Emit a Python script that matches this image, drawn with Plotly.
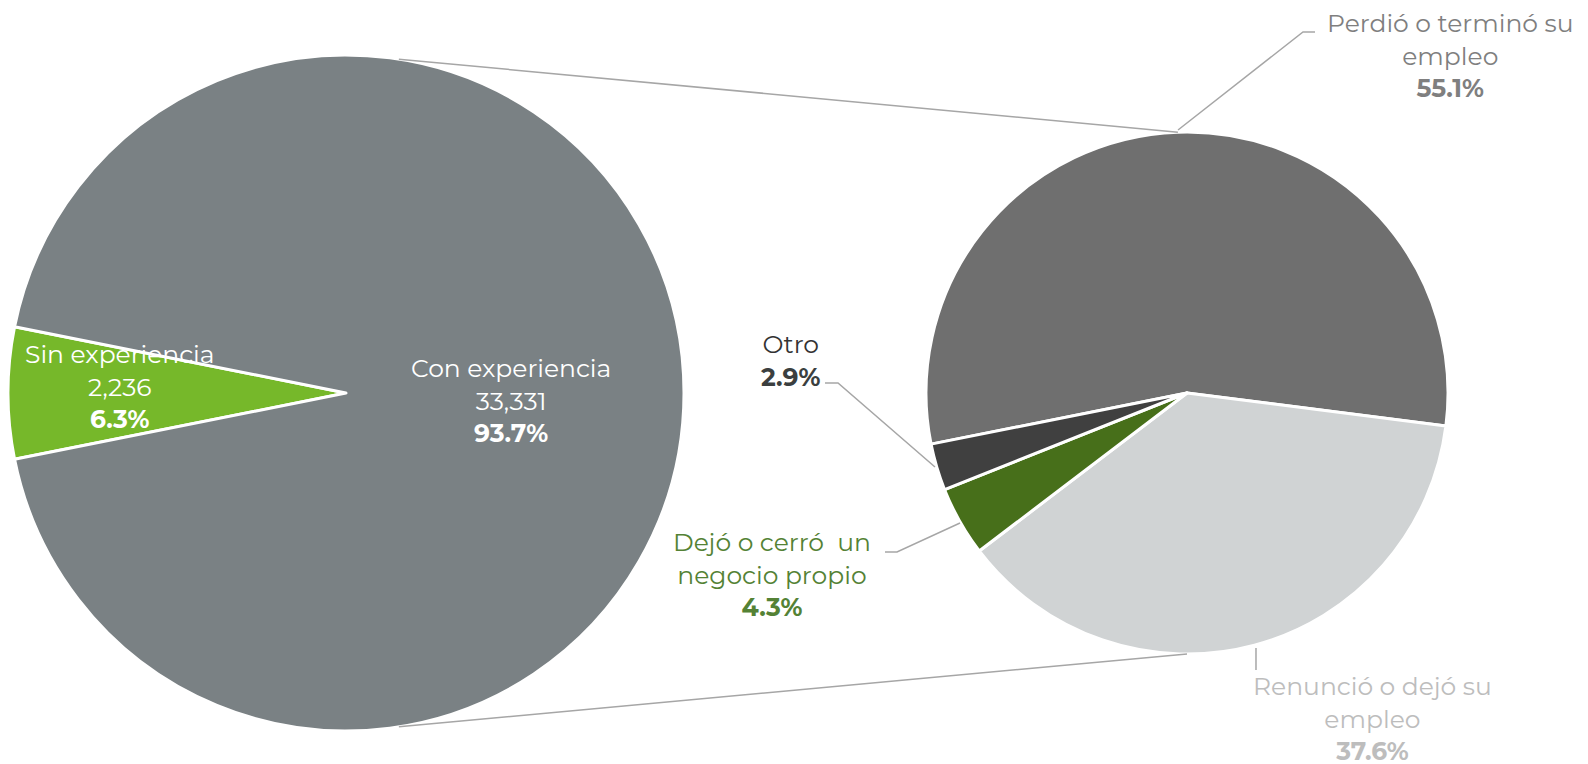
import numpy as np
import plotly.graph_objects as go

W, H = 1588, 764

# Left pie: experience
exp_labels = ['Sin experiencia', 'Con experiencia']
exp_values = [2236, 33331]
exp_pct = ['6.3%', '93.7%']
exp_colors = ['#76B82A', '#7A8184']

# Right pie: reason for leaving the last job
reason_labels = ['Perdió o terminó su empleo', 'Renunció o dejó su empleo',
                 'Dejó o cerró  un negocio propio', 'Otro']
reason_values = [55.1, 37.6, 4.3, 2.9]
reason_colors = ['#6F6F6F', '#D0D3D4', '#476F1A', '#404040']

FONT = 'Montserrat, Open Sans, sans-serif'
FS = 25
OFF = 8  # the page body adds an 8px margin around the figure


def px(x):
    return (x - OFF) / W


def py(y):
    return 1 - (y - OFF) / H


def domain(cx, cy, r):
    clip = lambda v: min(1, max(0, v))
    return dict(x=[clip(px(cx - r)), clip(px(cx + r))],
                y=[clip(py(cy + r)), clip(py(cy - r))])


def on_circle(cx, cy, r, deg):
    # angle measured clockwise from 12 o'clock, like plotly pies
    a = np.radians(deg)
    return cx + r * np.sin(a), cy - r * np.cos(a)


L_CX, L_CY, L_R = 346, 393, 338
R_CX, R_CY, R_R = 1187, 393, 261

half = 180 * exp_values[0] / sum(exp_values)
left_rot = 270 - half
if left_rot > 180:
    left_rot -= 360

fig = go.Figure()
fig.add_trace(go.Pie(
    labels=exp_labels, values=exp_values, sort=False, direction='clockwise',
    rotation=left_rot, domain=domain(L_CX, L_CY, L_R),
    marker=dict(colors=exp_colors, line=dict(color='white', width=3)),
    textinfo='none', showlegend=False,
))
fig.add_trace(go.Pie(
    labels=reason_labels, values=reason_values, sort=False, direction='clockwise',
    rotation=-101.3, domain=domain(R_CX, R_CY, R_R),
    marker=dict(colors=reason_colors, line=dict(color='white', width=3)),
    textinfo='none', showlegend=False,
))

shapes = []
line = dict(color='#A6A6A6', width=1.5)

# connectors between the two pies
for a_left, a_right in [(9, -2), (171, 180)]:
    x0, y0 = on_circle(L_CX, L_CY, L_R, a_left)
    x1, y1 = on_circle(R_CX, R_CY, R_R, a_right)
    shapes.append(dict(type='line', xref='paper', yref='paper',
                       x0=px(x0), y0=py(y0), x1=px(x1), y1=py(y1), line=line))

# leader lines for the labels
leaders = [
    [(1178, 130), (1303, 32), (1315, 32)],
    [(935, 467), (838, 383), (825, 383)],
    [(960, 523), (897, 552), (885, 552)],
    [(1256, 648), (1256, 670)],
]
for pts in leaders:
    path = 'M ' + ' L '.join(f'{px(x):.5f},{py(y):.5f}' for x, y in pts)
    shapes.append(dict(type='path', xref='paper', yref='paper', path=path, line=line))

annotations = []


def label(x, y, text, color):
    annotations.append(dict(x=px(x), y=py(y), xref='paper', yref='paper', text=text,
                            showarrow=False, xanchor='center', yanchor='middle',
                            align='center', font=dict(family=FONT, size=FS, color=color)))


label(120, 386, f'{exp_labels[0]}<br>{exp_values[0]:,}<br><b>{exp_pct[0]}</b>', 'white')
label(511, 400, f'{exp_labels[1]}<br>{exp_values[1]:,}<br><b>{exp_pct[1]}</b>', 'white')
label(1450, 56, f'Perdió o terminó su<br>empleo<br><b>{reason_values[0]}%</b>', '#7F7F7F')
label(1372, 718, f'Renunció o dejó su<br>empleo<br><b>{reason_values[1]}%</b>', '#BDBDBD')
label(772, 574, f'Dejó o cerró  un<br>negocio propio<br><b>{reason_values[2]}%</b>', '#548235')
label(790, 360, f'<span style="color:#333333">{reason_labels[3]}</span><br>'
                f'<b>{reason_values[3]}%</b>', '#3B3F3F')

fig.update_layout(
    width=W, height=H, autosize=False,
    margin=dict(l=0, r=0, t=0, b=0),
    paper_bgcolor='white', plot_bgcolor='white',
    font=dict(family=FONT),
    shapes=shapes, annotations=annotations,
)
fig.write_html("out.html")
